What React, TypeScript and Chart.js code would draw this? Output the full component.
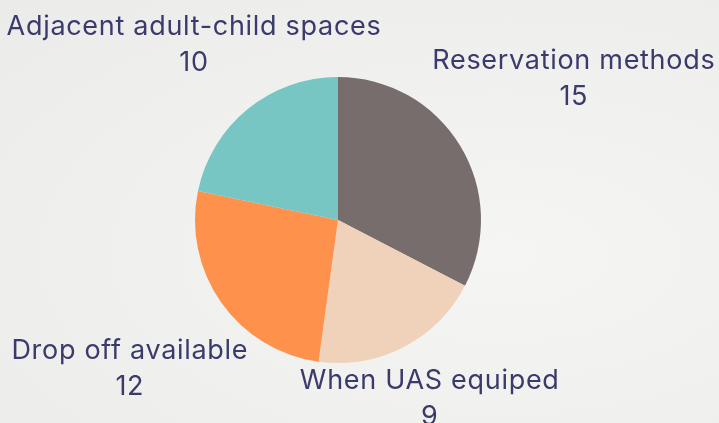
import { useEffect, useRef } from "react";
import { Chart, registerables } from "chart.js";

Chart.register(...registerables);

const categories = [
  "Reservation methods",
  "When UAS equiped",
  "Drop off available",
  "Adjacent adult-child spaces",
];
const values = [15, 9, 12, 10];
const colors = ["#776d6d", "#f0d2bb", "#fe914b", "#77c6c3"];

const FONT = "27px Inter";
const TEXT_COLOR = "#3a3a6c";
const LINE_GAP = 36;
const LABEL_GAP = 6;

const outsideLabels = {
  id: "outsideLabels",
  afterDatasetsDraw(chart: any) {
    const ctx = chart.ctx as CanvasRenderingContext2D;
    const meta = chart.getDatasetMeta(0);
    ctx.save();
    ctx.font = FONT;
    (ctx as any).letterSpacing = "0.7px";
    ctx.fillStyle = TEXT_COLOR;
    ctx.textAlign = "center";
    ctx.textBaseline = "alphabetic";
    const capH = ctx.measureText("H").actualBoundingBoxAscent;
    meta.data.forEach((arc: any, i: number) => {
      const p = arc.getProps(["x", "y", "startAngle", "endAngle", "outerRadius"], true);
      const mid = (p.startAngle + p.endAngle) / 2;
      const vx = Math.cos(mid);
      const vy = Math.sin(mid);
      const l1 = String(chart.data.labels[i]);
      const l2 = String(chart.data.datasets[0].data[i]);
      const w = Math.max(ctx.measureText(l1).width, ctx.measureText(l2).width);
      const h = capH + LINE_GAP;
      const target = p.outerRadius + LABEL_GAP;
      let lo = 0;
      let hi = 2000;
      for (let k = 0; k < 60; k++) {
        const d = (lo + hi) / 2;
        const bx = vx * d;
        const by = vy * d;
        const dx = Math.max(Math.abs(bx) - w / 2, 0);
        const dy = Math.max(Math.abs(by) - h / 2, 0);
        if (Math.hypot(dx, dy) < target) lo = d;
        else hi = d;
      }
      const bx = p.x + vx * hi;
      const by = p.y + vy * hi;
      const top = by - h / 2;
      ctx.fillText(l1, bx, top + capH);
      ctx.fillText(l2, bx, top + capH + LINE_GAP);
    });
    ctx.restore();
  },
};

export default function App() {
  const ref = useRef<HTMLCanvasElement | null>(null);
  useEffect(() => {
    if (!ref.current) return;
    const chart = new Chart(ref.current, {
      type: "pie",
      data: {
        labels: categories,
        datasets: [
          {
            data: values,
            backgroundColor: colors,
            borderWidth: 0,
          },
        ],
      },
      options: {
        animation: false,
        responsive: false,
        layout: { padding: { left: 195, right: 238, top: 77, bottom: 60 } },
        plugins: {
          legend: { display: false },
          tooltip: { enabled: false },
        },
      },
      plugins: [outsideLabels],
    });
    return () => chart.destroy();
  }, []);
  return (
    <div
      style={{
        position: "fixed",
        left: 0,
        top: 0,
        width: 719,
        height: 423,
        background: "radial-gradient(ellipse at 70% 60%, #f5f5f3 0%, #efefed 60%, #ebebe9 100%)",
      }}
    >
      <canvas ref={ref} width={719} height={423} />
    </div>
  );
}
